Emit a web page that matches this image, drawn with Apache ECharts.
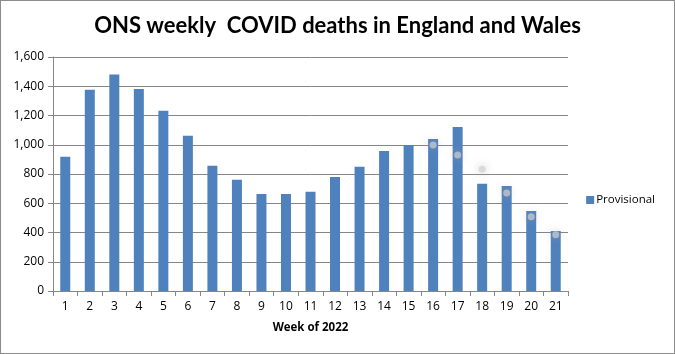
<!DOCTYPE html>
<html><head><meta charset="utf-8">
<script src="https://cdn.jsdelivr.net/npm/echarts@6/dist/echarts.min.js"></script>
<style>html,body{margin:0;padding:0;background:#fff}#c{width:673px;height:352px;border:1px solid #8c8c8c}</style>
</head><body><div id="c"></div>
<script>
const weeks = ['1','2','3','4','5','6','7','8','9','10','11','12','13','14','15','16','17','18','19','20','21'];
const provisional = [918,1376,1480,1382,1232,1061,856,760,664,664,678,780,849,958,998,1040,1122,733,718,547,410];
const markerValues = [null,null,null,null,null,null,null,null,null,null,null,null,null,null,null,998,930,832,670,507,385];
const yTicks = [0,200,400,600,800,1000,1200,1400,1600];

const chart = echarts.init(document.getElementById('c'));
chart.setOption({
  animation:false,
  title:{text:'ONS weekly  COVID deaths in England and Wales',left:'center',top:9,
    textStyle:{fontFamily:'Lato',fontWeight:'bold',fontSize:22,color:'#000'}},
  grid:{left:52,right:106,top:56,bottom:62},
  legend:{data:[{name:'Provisional',icon:'rect'}],right:14,top:188,orient:'vertical',itemWidth:8,itemHeight:8,itemGap:4,
    textStyle:{fontFamily:'Open Sans',fontSize:11.5,color:'#000',padding:[0,0,0,-3]}},
  xAxis:{type:'category',data:weeks,name:'Week of 2022',nameLocation:'middle',nameGap:31,
    nameTextStyle:{fontFamily:'Open Sans',fontWeight:'bold',fontSize:11.5,color:'#000'},
    axisLine:{lineStyle:{color:'#868686'}},axisTick:{show:true,length:5,lineStyle:{color:'#868686'}},
    axisLabel:{fontFamily:'Open Sans',fontSize:12,color:'#000',margin:10}},
  yAxis:{type:'value',min:yTicks[0],max:yTicks[yTicks.length-1],interval:200,
    axisLine:{show:true,lineStyle:{color:'#868686'}},axisTick:{show:true,length:5,lineStyle:{color:'#868686'}},
    splitLine:{lineStyle:{color:'#868686'}},
    axisLabel:{fontFamily:'Open Sans',fontSize:12,color:'#000',margin:9,
      formatter:v=>v.toLocaleString('en-US')}},
  series:[
    {name:'Provisional',type:'bar',data:provisional,barWidth:10,itemStyle:{color:'#4F81BD'}},
    {name:'marker',type:'scatter',data:markerValues,symbolSize:7,z:5,
      itemStyle:{color:'rgba(210,210,210,0.85)',shadowBlur:8,shadowColor:'rgba(160,160,160,0.9)'}}
  ]
});
</script></body></html>
